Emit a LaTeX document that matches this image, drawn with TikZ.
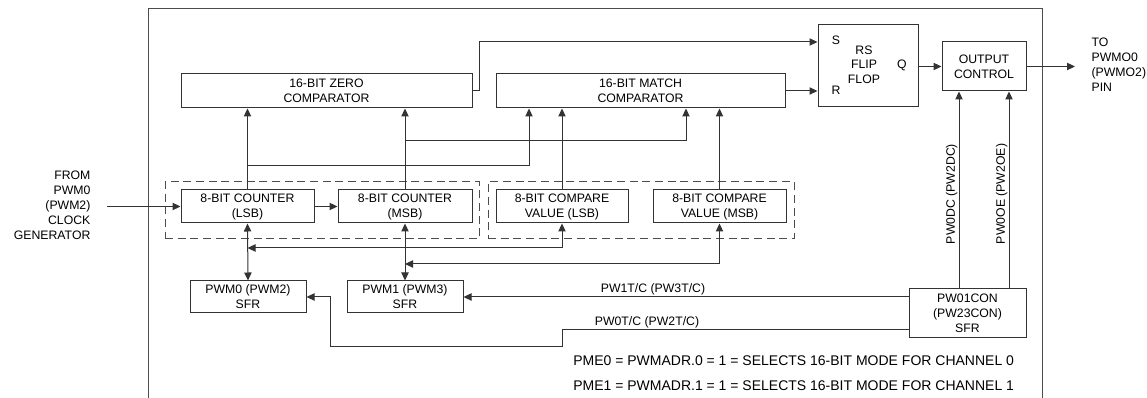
\documentclass[tikz,border=0pt]{standalone}
\usepackage{fontspec}
\setmainfont{Liberation Sans}
\usetikzlibrary{arrows.meta}
\newcommand\dlabelfont{\fontsize{9.2}{11.25}\selectfont}
\newcommand\dnotefont{\fontsize{10.5}{12}\selectfont}
\tikzset{
  wire/.style={draw=black!80,line width=0.75pt},
  arr/.style={wire,-{Triangle[length=6pt,width=5.5pt]}},
  dbl/.style={wire,{Triangle[length=6pt,width=5.5pt]}-{Triangle[length=6pt,width=5.5pt]}},
  box/.style={draw=black!80,line width=0.75pt,rectangle,inner sep=0pt,align=center,font=\dlabelfont},
  grp/.style={draw=black!70,line width=0.75pt,dash pattern=on 6pt off 3.5pt,rectangle,inner sep=0pt},
  lbl/.style={font=\dlabelfont,inner sep=1pt},
}
\begin{document}
\begin{tikzpicture}[x=0.75pt,y=-0.75pt]
\useasboundingbox (0,0) rectangle (1147,398);
% frame
\draw[wire,draw=black!70] (148,398) -- (148,9) -- (1042,9) -- (1042,398);
% groups
\node[grp,minimum width=235.5pt,minimum height=42.75pt] (dg1) at (322,210.5) {};
\node[grp,minimum width=229.5pt,minimum height=42.75pt] (dg2) at (641,210.5) {};
% boxes
\node[box,minimum width=218.25pt,minimum height=25.5pt] (zc) at (326.5,91) {16-BIT ZERO\\COMPARATOR};
\node[box,minimum width=216.75pt,minimum height=25.5pt] (mc) at (640.5,91) {16-BIT MATCH\\COMPARATOR};
\node[box,minimum width=75pt,minimum height=61.5pt] (ff) at (868,66) {};
\node[lbl] (ffS) at (836,40) {S};
\node[lbl] (ffR) at (836,90) {R};
\node[lbl] (ffQ) at (902,65) {Q};
\node[lbl,align=center,font=\fontsize{9.2}{10.9}\selectfont] (ffT) at (864,64.5) {RS\\FLIP\\FLOP};
\node[box,minimum width=63pt,minimum height=36.75pt] (oc) at (984,66.5) {OUTPUT\\CONTROL};
\node[box,minimum width=99.75pt,minimum height=24.75pt] (cl) at (247.5,206.5) {8-BIT COUNTER\\(LSB)};
\node[box,minimum width=100.5pt,minimum height=24.75pt] (cm) at (405,206.5) {8-BIT COUNTER\\(MSB)};
\node[box,minimum width=99pt,minimum height=24.75pt] (cls) at (562,206.5) {8-BIT COMPARE\\VALUE (LSB)};
\node[box,minimum width=99.75pt,minimum height=24.75pt] (cms) at (719.5,206.5) {8-BIT COMPARE\\VALUE (MSB)};
\node[box,minimum width=87pt,minimum height=24pt] (sfr0) at (248,297) {PWM0 (PWM2)\\SFR};
\node[box,minimum width=87pt,minimum height=24pt] (sfr1) at (405,297) {PWM1 (PWM3)\\SFR};
\node[box,minimum width=87.75pt,minimum height=36.75pt] (pc) at (967.5,313.5) {PW01CON\\(PW23CON)\\SFR};
% external texts
\node[lbl,align=right,anchor=east] (from) at (92,205) {FROM\\PWM0\\(PWM2)\\CLOCK\\GENERATOR};
\node[lbl,align=left,anchor=west] (to) at (1090,64.5) {TO\\PWMO0\\(PWMO2)\\PIN};
% connectors
\coordinate (in) at (107,206.5);
\draw[arr] (in) -- (cl.west);
\draw[arr] (cl.east) -- (cm.west);
\draw[arr] (cl.north) -- (cl.north |- zc.south);
\draw[arr] (cm.north) -- (cm.north |- zc.south);
\coordinate (j1) at (247.5,166);
\coordinate (m1) at (529,166);
\draw[arr] (j1) -- (m1) -- (m1 |- mc.south);
\coordinate (j2) at (405,141);
\coordinate (m2) at (686,141);
\draw[arr] (j2) -- (m2) -- (m2 |- mc.south);
\draw[arr] (cls.north) -- (cls.north |- mc.south);
\draw[arr] (cms.north) -- (cms.north |- mc.south);
\coordinate (b1) at (562,248);
\draw[dbl] (cls.south) -- (b1) -- (b1 -| cl.south);
\draw[dbl] (cl.south) -- (sfr0.north);
\coordinate (b2) at (719.5,264);
\draw[dbl] (cms.south) -- (b2) -- (b2 -| cm.south);
\draw[dbl] (cm.south) -- (sfr1.north);
\coordinate (z1) at (479,91);
\coordinate (z2) at (479,42);
\draw[arr] (zc.east) -- (z1) -- (z2) -- (z2 -| ff.west);
\draw[arr] (mc.east) -- (mc.east -| ff.west);
\draw[arr] (ff.east |- oc.west) -- (oc.west);
\coordinate (out) at (1075,66.5);
\draw[arr] (oc.east) -- (out);
\coordinate (dc) at ([xshift=-18.75pt]oc.south);
\coordinate (oe) at ([xshift=18.75pt]oc.south);
\draw[arr] (pc.north -| dc) -- (dc);
\draw[arr] (pc.north -| oe) -- (oe);
\node[lbl,rotate=90,anchor=south] (ldc) at (959,194) {PW0DC (PW2DC)};
\node[lbl,rotate=90,anchor=south] (loe) at (1009,194) {PW0OE (PW2OE)};
\draw[arr] ([yshift=12.375pt]pc.west) -- (sfr1.east);
\node[lbl,anchor=south] (l1) at (653,297) {PW1T/C (PW3T/C)};
\coordinate (t0) at ([yshift=-12.375pt]pc.west);
\coordinate (t1) at (562,330);
\coordinate (t2) at (562,347);
\coordinate (t3) at (330,347);
\coordinate (t4) at (330,297);
\draw[arr] (t0) -- (t1) -- (t2) -- (t3) -- (t4) -- (sfr0.east);
\node[lbl,anchor=south] (l0) at (647,330) {PW0T/C (PW2T/C)};
% notes
\node[font=\dnotefont,anchor=west,inner sep=0pt] (n0) at (573,361) {PME0 = PWMADR.0 = 1 = SELECTS 16-BIT MODE FOR CHANNEL 0};
\node[font=\dnotefont,anchor=west,inner sep=0pt] (n1) at (573,386) {PME1 = PWMADR.1 = 1 = SELECTS 16-BIT MODE FOR CHANNEL 1};
\end{tikzpicture}
\end{document}
